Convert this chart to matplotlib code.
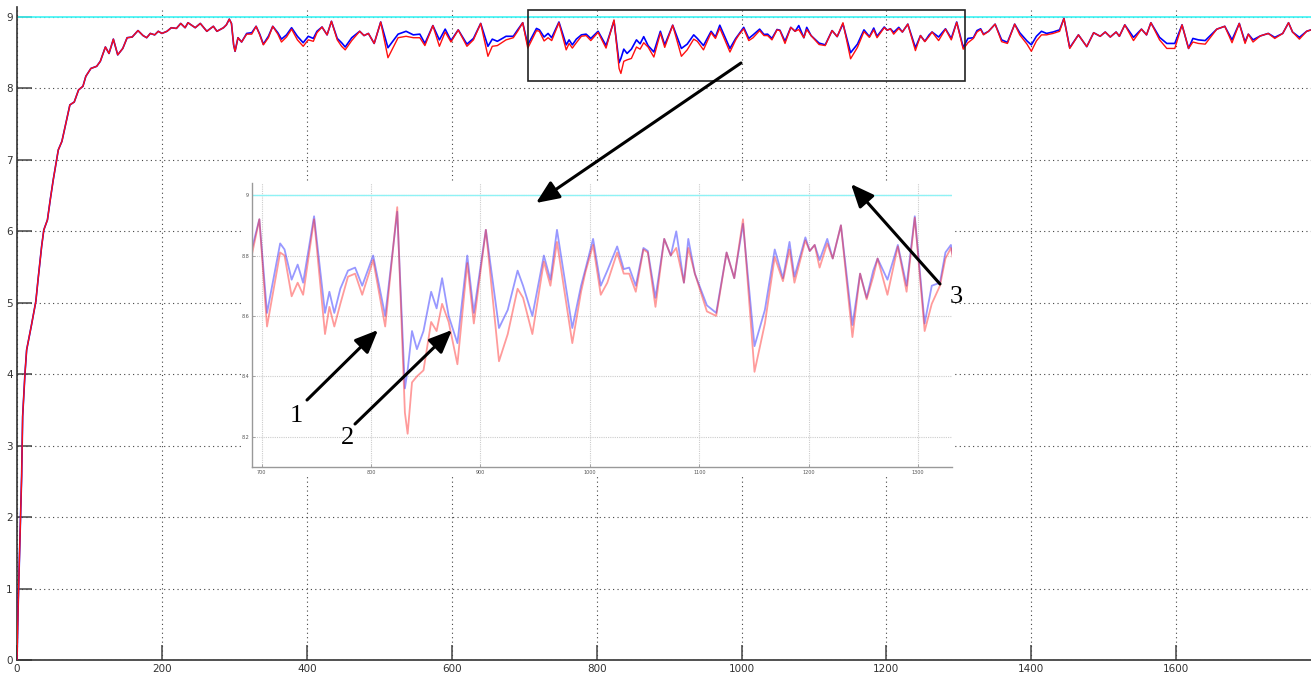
import matplotlib
matplotlib.use("Agg")
import matplotlib.pyplot as plt
from matplotlib.patches import Rectangle

# sample positions and the two responses (blue / red)
x_pts = [0, 1.8, 3.2, 5.1, 6.4, 7.8, 11, 13.3, 20, 26, 29, 34, 37, 42, 46, 50, 57, 62, 69, 73,
         79, 85, 91, 95, 102, 110, 115, 122, 127, 133, 139, 146, 152, 159, 167, 174, 179, 184, 190, 195,
         200, 207, 213, 220, 226, 232, 236, 246, 253, 262, 271, 276, 285, 289, 293, 296, 299, 301, 305, 310,
         317, 324, 330, 335, 340, 347, 353, 360, 365, 372, 379, 387, 395, 402, 409, 414, 421, 428, 434, 442,
         448, 453, 462, 473, 479, 485, 493, 502, 512, 526, 537, 547, 556, 563, 574, 583, 591, 599, 609, 621,
         630, 640, 650, 656, 663, 675, 685, 691, 698, 705, 717, 721, 727.5, 733, 738, 748, 758, 762, 766.5, 772,
         779, 785.5, 792, 802, 813, 824, 831, 833.5, 837.5, 842, 848, 855, 860, 865, 871, 879, 888, 894, 905, 917,
         925, 934, 939, 947.5, 958, 964, 970, 984, 992, 996, 1003, 1010, 1016, 1025, 1031, 1036, 1042, 1049, 1053, 1060,
         1068, 1074, 1079, 1086, 1090, 1096, 1107, 1115.5, 1125, 1132, 1140, 1150.5, 1160, 1169, 1176.5, 1182.5, 1187, 1197, 1201, 1205.5,
         1210, 1217, 1222, 1229.5, 1240, 1247, 1253, 1259, 1263, 1272, 1281.5, 1289.5, 1297, 1306, 1312.5, 1320, 1325, 1330, 1334, 1341,
         1350, 1359, 1367, 1377, 1384, 1394, 1400, 1407, 1414, 1421, 1430, 1439, 1445, 1453, 1465, 1476.5, 1486, 1495, 1502, 1509,
         1517, 1521.5, 1529, 1541, 1552, 1559, 1565, 1577, 1587, 1598, 1608, 1617, 1623, 1630.5, 1640, 1656, 1667, 1677, 1687, 1695,
         1699.5, 1706, 1716, 1727, 1736, 1747, 1755, 1760.5, 1770, 1780, 1786]

blue = [0, 0.84, 1.35, 2.0, 2.57, 3.41, 4.01, 4.34, 4.69, 5.02, 5.32, 5.79, 6.02, 6.16, 6.45, 6.72, 7.14, 7.26, 7.58, 7.77,
        7.81, 7.98, 8.03, 8.17, 8.28, 8.31, 8.38, 8.58, 8.49, 8.69, 8.47, 8.56, 8.71, 8.72, 8.81, 8.74, 8.71, 8.77, 8.75, 8.80,
        8.77, 8.80, 8.85, 8.84, 8.91, 8.85, 8.92, 8.85, 8.91, 8.80, 8.87, 8.80, 8.85, 8.89, 8.97, 8.91, 8.61, 8.52, 8.71, 8.65,
        8.77, 8.78, 8.87, 8.76, 8.62, 8.73, 8.87, 8.78, 8.69, 8.75, 8.85, 8.73, 8.64, 8.73, 8.70, 8.80, 8.86, 8.75, 8.94, 8.70,
        8.64, 8.58, 8.71, 8.80, 8.74, 8.77, 8.63, 8.93, 8.57, 8.76, 8.80, 8.75, 8.76, 8.63, 8.88, 8.68, 8.83, 8.67, 8.82, 8.62,
        8.70, 8.91, 8.59, 8.69, 8.66, 8.73, 8.73, 8.82, 8.92, 8.61, 8.84, 8.82, 8.72, 8.77, 8.71, 8.93, 8.61, 8.68, 8.61, 8.69,
        8.75, 8.76, 8.70, 8.80, 8.60, 8.945, 8.36, 8.42, 8.55, 8.49, 8.55, 8.68, 8.625, 8.725, 8.60, 8.51, 8.80, 8.61, 8.885, 8.56,
        8.62, 8.75, 8.70, 8.60, 8.80, 8.72, 8.885, 8.56, 8.70, 8.755, 8.855, 8.70, 8.75, 8.83, 8.755, 8.76, 8.70, 8.825, 8.815, 8.66,
        8.855, 8.80, 8.88, 8.71, 8.855, 8.74, 8.635, 8.61, 8.81, 8.725, 8.905, 8.50, 8.62, 8.82, 8.725, 8.845, 8.73, 8.86, 8.815, 8.835,
        8.785, 8.855, 8.79, 8.90, 8.57, 8.74, 8.66, 8.75, 8.79, 8.72, 8.835, 8.70, 8.93, 8.575, 8.70, 8.71, 8.81, 8.835, 8.76, 8.80,
        8.90, 8.68, 8.645, 8.90, 8.78, 8.665, 8.61, 8.73, 8.80, 8.77, 8.79, 8.82, 8.98, 8.57, 8.75, 8.585, 8.78, 8.73, 8.79, 8.72,
        8.79, 8.73, 8.89, 8.715, 8.83, 8.75, 8.92, 8.715, 8.63, 8.63, 8.89, 8.56, 8.70, 8.68, 8.67, 8.83, 8.87, 8.68, 8.91, 8.65,
        8.76, 8.68, 8.735, 8.77, 8.715, 8.77, 8.92, 8.79, 8.715, 8.80, 8.82]

red = [0, 0.84, 1.35, 2.0, 2.57, 3.41, 4.01, 4.34, 4.69, 5.02, 5.32, 5.79, 6.02, 6.16, 6.45, 6.72, 7.14, 7.26, 7.58, 7.77,
       7.81, 7.98, 8.03, 8.17, 8.28, 8.31, 8.38, 8.58, 8.49, 8.69, 8.47, 8.56, 8.71, 8.72, 8.81, 8.74, 8.71, 8.77, 8.75, 8.80,
       8.77, 8.80, 8.85, 8.84, 8.91, 8.85, 8.92, 8.85, 8.91, 8.80, 8.87, 8.80, 8.85, 8.89, 8.97, 8.91, 8.61, 8.52, 8.71, 8.65,
       8.76, 8.76, 8.87, 8.75, 8.61, 8.71, 8.87, 8.76, 8.65, 8.72, 8.83, 8.68, 8.59, 8.68, 8.66, 8.78, 8.86, 8.75, 8.94, 8.68,
       8.59, 8.54, 8.67, 8.80, 8.74, 8.77, 8.63, 8.93, 8.43, 8.71, 8.73, 8.71, 8.71, 8.60, 8.88, 8.59, 8.79, 8.65, 8.82, 8.59,
       8.68, 8.91, 8.45, 8.59, 8.60, 8.68, 8.71, 8.80, 8.92, 8.565, 8.81, 8.80, 8.665, 8.71, 8.67, 8.92, 8.54, 8.63, 8.565, 8.64,
       8.73, 8.74, 8.67, 8.785, 8.565, 8.96, 8.28, 8.21, 8.38, 8.40, 8.42, 8.58, 8.55, 8.64, 8.58, 8.44, 8.775, 8.575, 8.885, 8.45,
       8.54, 8.69, 8.66, 8.54, 8.78, 8.70, 8.845, 8.51, 8.68, 8.745, 8.835, 8.67, 8.71, 8.81, 8.74, 8.74, 8.68, 8.82, 8.81, 8.63,
       8.855, 8.80, 8.825, 8.71, 8.825, 8.74, 8.615, 8.60, 8.81, 8.725, 8.92, 8.415, 8.575, 8.795, 8.715, 8.82, 8.71, 8.85, 8.815, 8.835,
       8.76, 8.84, 8.79, 8.90, 8.53, 8.74, 8.655, 8.73, 8.79, 8.67, 8.83, 8.68, 8.925, 8.55, 8.64, 8.70, 8.79, 8.825, 8.75, 8.80,
       8.90, 8.655, 8.63, 8.90, 8.75, 8.62, 8.52, 8.665, 8.75, 8.75, 8.77, 8.80, 8.98, 8.56, 8.75, 8.585, 8.78, 8.73, 8.79, 8.72,
       8.79, 8.73, 8.89, 8.67, 8.83, 8.75, 8.92, 8.68, 8.56, 8.56, 8.89, 8.56, 8.65, 8.63, 8.62, 8.83, 8.87, 8.64, 8.91, 8.63,
       8.76, 8.65, 8.735, 8.77, 8.70, 8.77, 8.92, 8.79, 8.69, 8.80, 8.82]

setpoint = 9
x_ticks = [0, 200, 400, 600, 800, 1000, 1200, 1400, 1600]
y_ticks = [0, 1, 2, 3, 4, 5, 6, 7, 8, 9]
zoom_x = [691, 1331]
zoom_y = [8.1, 9.04]
zoom_xticks = [700, 800, 900, 1000, 1100, 1200, 1300]
zoom_yticks = [8.2, 8.4, 8.6, 8.8, 9]
box = [705, 8.105, 1308.5, 9.1]

W, H = 1311, 673
fig = plt.figure(figsize=(W / 100, H / 100), dpi=100)
fig.patch.set_facecolor("white")

def fx(px):
    return px / W

def fy(py):
    return 1 - py / H

# main axes
ax = fig.add_axes([fx(17), fy(660), fx(1311) - fx(17), fy(7) - fy(660)])
ax.set_xlim(0, 1786)
ax.set_ylim(0, 9.14)
ax.axhline(setpoint, color="#3cf5f5", lw=1.2, zorder=2)
ax.plot(x_pts, blue, color="#0000ff", lw=1.2, zorder=3)
ax.plot(x_pts, red, color="#ff1010", lw=1.0, zorder=4)
ax.set_xticks(x_ticks)
ax.set_yticks(y_ticks)
ax.grid(True, color="#444444", linestyle=(0, (1, 3)), lw=0.8)
ax.tick_params(direction="in", length=11, width=1.1, color="#444444",
               labelsize=7.5, labelcolor="#333333", pad=3)
for s in ["top", "right"]:
    ax.spines[s].set_visible(False)
for s in ["left", "bottom"]:
    ax.spines[s].set_color("#333333")
    ax.spines[s].set_linewidth(1.2)
ax.add_patch(Rectangle((box[0], box[1]), box[2] - box[0], box[3] - box[1],
                       fill=False, edgecolor="#222222", lw=1.2, zorder=5))

# white patch behind the pasted zoom image
fig.patches.append(Rectangle((fx(244), fy(476)), fx(955) - fx(244), fy(183) - fy(476),
                             transform=fig.transFigure, facecolor="white",
                             edgecolor="none", zorder=1))

# zoomed inset
ins = fig.add_axes([fx(251.7), fy(467), fx(952) - fx(251.7), fy(183) - fy(467)])
ins.set_zorder(2)
ins.set_xlim(zoom_x)
ins.set_ylim(zoom_y)
ins.axhline(setpoint, color="#8ff2f5", lw=1.0)
ins.plot(x_pts, blue, color="#3333ff", lw=1.3, alpha=0.5)
ins.plot(x_pts, red, color="#ff2222", lw=1.3, alpha=0.45)
ins.set_xticks(zoom_xticks)
ins.set_yticks(zoom_yticks)
ins.set_yticklabels(["8.2", "8.4", "8.6", "8.8", "9"])
ins.grid(True, color="#cccccc", linestyle=(0, (1, 1)), lw=0.8)
ins.tick_params(direction="in", length=2, width=0.6, color="#999999",
                labelsize=3.5, labelcolor="#555555", pad=2)
for s in ["top", "right"]:
    ins.spines[s].set_visible(False)
for s in ["left", "bottom"]:
    ins.spines[s].set_color("#999999")
    ins.spines[s].set_linewidth(1.0)

# arrows and numbers (figure pixels, origin top-left -> flip)
def arrow(tail, tip):
    ins.annotate("", xy=(tip[0], H - tip[1]), xytext=(tail[0], H - tail[1]),
                 xycoords="figure pixels", textcoords="figure pixels",
                 arrowprops=dict(arrowstyle="-|>,head_length=0.7,head_width=0.3",
                                 mutation_scale=20, lw=2.2, color="black",
                                 shrinkA=0, shrinkB=0))

arrow((741, 63), (536, 203))
arrow((940, 284), (851, 184))
arrow((307, 400), (378, 330))
arrow((355, 424), (452, 330))

for lab, px, py in [("1", 296.5, 416), ("2", 347.5, 437.5), ("3", 956, 297)]:
    fig.text(fx(px), fy(py), lab, fontsize=19, family="Liberation Serif",
             ha="center", va="center", color="black")

fig.savefig("out.png", dpi=100)
